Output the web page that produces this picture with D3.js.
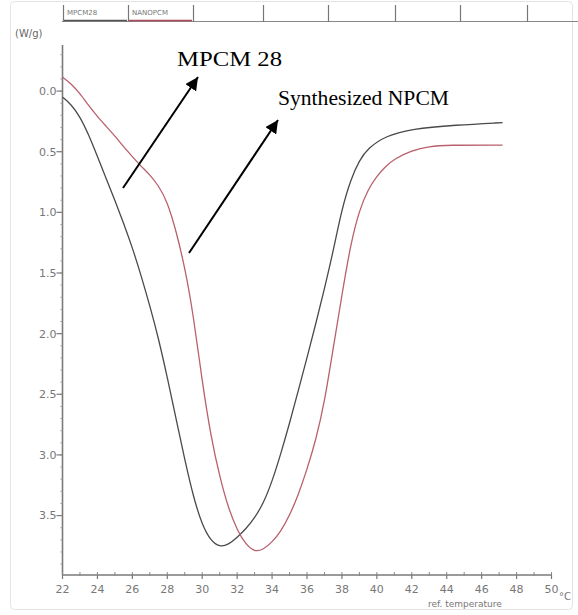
<!DOCTYPE html>
<html>
<head>
<meta charset="utf-8">
<script src="https://cdn.jsdelivr.net/npm/d3@7"></script>
<style>
  body { margin: 0; background: #fff; }
  text { font-family: "DejaVu Sans", sans-serif; }
</style>
</head>
<body>
<svg id="dsc" width="578" height="615"></svg>
<script>
// tabs at the top (legend)
let tabLabels = ['MPCM28', 'NANOPCM'];
let tabColors = ['#555', '#b04a5a'];

// MPCM 28 curve
let mpcmTemp = [22.0, 22.5, 23.0, 23.5, 24.0, 24.5, 25.0, 25.5, 26.0, 26.5, 27.0, 27.5, 28.0, 28.5, 29.0, 29.5, 30.0, 30.5, 31.0, 31.5, 32.0, 32.5, 33.0, 33.5, 34.0, 34.5, 35.0, 35.5, 36.0, 36.5, 37.0, 37.5, 38.0, 38.5, 39.0, 39.5, 40.5, 42.0, 44.5, 47.2];
let mpcmFlow = [0.05, 0.11, 0.21, 0.36, 0.54, 0.72, 0.90, 1.09, 1.29, 1.52, 1.77, 2.04, 2.36, 2.70, 3.04, 3.35, 3.58, 3.71, 3.76, 3.74, 3.68, 3.61, 3.52, 3.40, 3.22, 2.99, 2.74, 2.47, 2.20, 1.92, 1.63, 1.32, 0.97, 0.73, 0.57, 0.47, 0.37, 0.31, 0.28, 0.26];

// synthesized NPCM curve
let npcmTemp = [22.0, 22.5, 23.0, 23.5, 24.0, 24.5, 25.0, 25.5, 26.0, 26.5, 27.0, 27.5, 28.0, 28.5, 29.0, 29.5, 30.0, 30.5, 31.0, 31.5, 32.0, 32.5, 33.0, 33.5, 34.0, 34.5, 35.0, 35.5, 36.0, 36.5, 37.0, 37.5, 38.0, 38.5, 39.0, 39.5, 40.0, 40.5, 41.0, 42.0, 43.0, 44.0, 47.2];
let npcmFlow = [-0.115, -0.06, 0.02, 0.12, 0.21, 0.29, 0.37, 0.46, 0.54, 0.62, 0.69, 0.78, 0.91, 1.15, 1.45, 1.85, 2.40, 2.85, 3.18, 3.44, 3.62, 3.74, 3.80, 3.78, 3.72, 3.63, 3.50, 3.33, 3.12, 2.88, 2.57, 2.12, 1.68, 1.26, 0.98, 0.81, 0.70, 0.62, 0.56, 0.49, 0.455, 0.445, 0.445];

let yTicks = [0.0, 0.5, 1.0, 1.5, 2.0, 2.5, 3.0, 3.5];
let xTicks = [22, 24, 26, 28, 30, 32, 34, 36, 38, 40, 42, 44, 46, 48, 50];

let svg = d3.select('#dsc');

let xScale = d3.scaleLinear()
  .domain([22, 50])
  .range([62.5, 551.5]);

let yScale = d3.scaleLinear()
  .domain([-0.38, 3.99])
  .range([45, 575]);

// faint outer frame
svg.append('rect')
  .attr('x', 10.5)
  .attr('y', 1.5)
  .attr('width', 562)
  .attr('height', 608)
  .attr('rx', 4)
  .attr('fill', 'none')
  .attr('stroke', '#e4e4e4');

// tab bar
let tabEdges = [63, 128, 193, 263, 328, 395, 460, 527];
svg.append('line')
  .attr('x1', 62).attr('x2', 578)
  .attr('y1', 21.5).attr('y2', 21.5)
  .attr('stroke', '#888')
  .attr('stroke-width', 1.2);
svg.selectAll('.tab-sep')
  .data(tabEdges)
  .enter()
  .append('line')
  .attr('class', 'tab-sep')
  .attr('x1', d => d + 0.5).attr('x2', d => d + 0.5)
  .attr('y1', 5).attr('y2', 22)
  .attr('stroke', '#777')
  .attr('stroke-width', 1.2);
svg.selectAll('.tab-under')
  .data(tabLabels)
  .enter()
  .append('line')
  .attr('class', 'tab-under')
  .attr('x1', (d, i) => tabEdges[i] + 1)
  .attr('x2', (d, i) => tabEdges[i + 1] - 1)
  .attr('y1', 20.5).attr('y2', 20.5)
  .attr('stroke', (d, i) => tabColors[i])
  .attr('stroke-width', 1.5);
svg.selectAll('.tab-label')
  .data(tabLabels)
  .enter()
  .append('text')
  .attr('class', 'tab-label')
  .attr('x', (d, i) => tabEdges[i] + 4)
  .attr('y', 15)
  .attr('font-size', 7)
  .attr('fill', '#777')
  .text(d => d);

// unit label
svg.append('text')
  .attr('x', 15)
  .attr('y', 37)
  .attr('font-size', 10)
  .attr('fill', '#666')
  .text('(W/g)');

// y axis
let axisColor = '#7a7a7a';
svg.append('line')
  .attr('x1', xScale(22)).attr('x2', xScale(22))
  .attr('y1', yScale.range()[0]).attr('y2', yScale.range()[1])
  .attr('stroke', axisColor)
  .attr('stroke-width', 1.6);

svg.selectAll('.ytick-minor')
  .data(d3.range(-3, 40).map(d => d / 10))
  .enter()
  .append('line')
  .attr('class', 'ytick-minor')
  .attr('x1', xScale(22) - 2).attr('x2', xScale(22))
  .attr('y1', d => yScale(d)).attr('y2', d => yScale(d))
  .attr('stroke', '#999');

let yt = svg.selectAll('.ytick')
  .data(yTicks)
  .enter()
  .append('g')
  .attr('class', 'ytick')
  .attr('transform', d => `translate(${xScale(22)},${yScale(d)})`);
yt.append('line')
  .attr('x1', -6).attr('x2', 0)
  .attr('stroke', axisColor)
  .attr('stroke-width', 1.2);
yt.append('text')
  .attr('x', -6)
  .attr('dy', '0.35em')
  .attr('text-anchor', 'end')
  .attr('font-size', 11)
  .attr('fill', '#777')
  .text(d => d.toFixed(1));

// x axis
svg.append('line')
  .attr('x1', xScale(22)).attr('x2', xScale(50))
  .attr('y1', yScale.range()[1]).attr('y2', yScale.range()[1])
  .attr('stroke', axisColor)
  .attr('stroke-width', 1.6);

svg.selectAll('.xtick-minor')
  .data(d3.range(22, 51))
  .enter()
  .append('line')
  .attr('class', 'xtick-minor')
  .attr('x1', d => xScale(d)).attr('x2', d => xScale(d))
  .attr('y1', yScale.range()[1] - 3).attr('y2', yScale.range()[1] + 1)
  .attr('stroke', '#888');

let xt = svg.selectAll('.xtick')
  .data(xTicks)
  .enter()
  .append('g')
  .attr('class', 'xtick')
  .attr('transform', d => `translate(${xScale(d)},${yScale.range()[1]})`);
xt.append('line')
  .attr('y1', 0).attr('y2', 4)
  .attr('stroke', axisColor)
  .attr('stroke-width', 1.2);
xt.append('text')
  .attr('y', 18)
  .attr('text-anchor', 'middle')
  .attr('font-size', 11)
  .attr('fill', '#777')
  .text(d => d);

svg.append('text')
  .attr('x', 428)
  .attr('y', 607)
  .attr('font-size', 9)
  .attr('fill', '#777')
  .text('ref. temperature');
svg.append('text')
  .attr('x', 559)
  .attr('y', 600)
  .attr('font-size', 10)
  .attr('fill', '#777')
  .text('°C');

// curves
let line = d3.line()
  .x(d => xScale(d[0]))
  .y(d => yScale(d[1]))
  .curve(d3.curveBasis);

let series = [
  { name: 'MPCM28', pts: d3.zip(mpcmTemp, mpcmFlow), color: '#4a4a4a' },
  { name: 'NANOPCM', pts: d3.zip(npcmTemp, npcmFlow), color: '#b9606c' }
];

svg.selectAll('.curve')
  .data(series)
  .enter()
  .append('path')
  .attr('class', 'curve')
  .attr('fill', 'none')
  .attr('stroke', d => d.color)
  .attr('stroke-width', 1.3)
  .attr('d', d => line(d.pts));

// annotations
svg.append('defs')
  .append('marker')
  .attr('id', 'head')
  .attr('viewBox', '0 0 10 10')
  .attr('refX', 10).attr('refY', 5)
  .attr('markerWidth', 6.5).attr('markerHeight', 6.5)
  .attr('markerUnits', 'strokeWidth')
  .attr('orient', 'auto')
  .append('path')
  .attr('d', 'M0,0 L10,5 L0,10 Z')
  .attr('fill', '#000');

let notes = [
  { label: 'MPCM 28', tx: 177, ty: 66, len: 105, from: [123, 188], to: [198, 77] },
  { label: 'Synthesized NPCM', tx: 278, ty: 105, len: 171, from: [189, 253], to: [278, 120] }
];

svg.selectAll('.arrow')
  .data(notes)
  .enter()
  .append('line')
  .attr('class', 'arrow')
  .attr('x1', d => d.from[0]).attr('y1', d => d.from[1])
  .attr('x2', d => d.to[0]).attr('y2', d => d.to[1])
  .attr('stroke', '#000')
  .attr('stroke-width', 2)
  .attr('marker-end', 'url(#head)');

svg.selectAll('.note')
  .data(notes)
  .enter()
  .append('text')
  .attr('class', 'note')
  .attr('x', d => d.tx)
  .attr('y', d => d.ty)
  .style('font-family', '"Liberation Serif", "Times New Roman", serif')
  .attr('font-size', 20)
  .attr('textLength', d => d.len)
  .attr('lengthAdjust', 'spacingAndGlyphs')
  .attr('fill', '#000')
  .text(d => d.label);
</script>
</body>
</html>
